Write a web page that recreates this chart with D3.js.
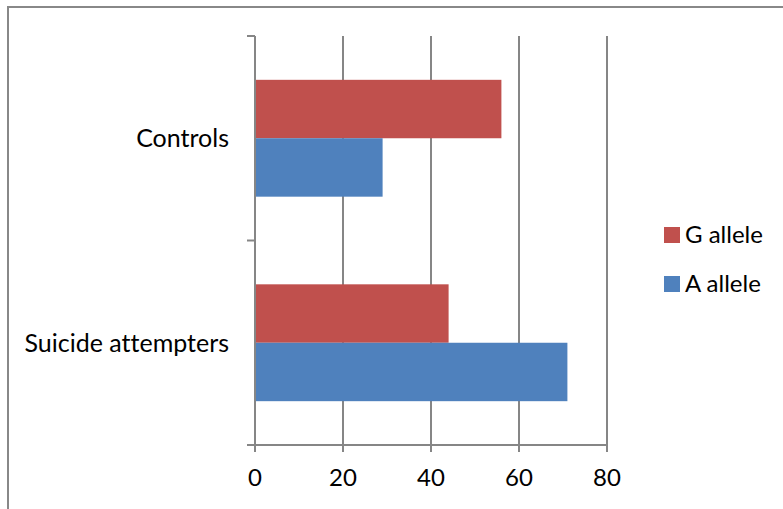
<!DOCTYPE html>
<html>
<head>
<meta charset="utf-8">
<script src="https://cdn.jsdelivr.net/npm/d3@7"></script>
<style>
  html, body { margin: 0; padding: 0; background: #fff; }
  svg { display: block; }
  text { font-family: Lato, "Open Sans", sans-serif; fill: #000; font-variant-ligatures: none; font-feature-settings: "liga" 0; }
</style>
</head>
<body>
<svg id="chart" width="783" height="509"></svg>
<script>
// Allele frequencies (%) by group
const categories = ["Suicide attempters", "Controls"];
const seriesNames = ["A allele", "G allele"];
const aAllele = [71, 29];
const gAllele = [44, 56];
const xTicks = [0, 20, 40, 60, 80];
const colors = { "A allele": "#4F81BD", "G allele": "#C0504D" };

const svg = d3.select("#chart");
const W = 783, H = 509;

// outer chart frame (extends past right/bottom edge)
svg.append("rect")
  .attr("x", 8).attr("y", 7)
  .attr("width", W + 10).attr("height", H + 10)
  .attr("fill", "#fff").attr("stroke", "#888").attr("stroke-width", 2);

const plot = { left: 255, right: 607, top: 36, bottom: 445 };

const x = d3.scaleLinear().domain([0, 80]).range([plot.left, plot.right]);
// categories run bottom-to-top
const y0 = d3.scaleBand().domain(categories).range([plot.bottom, plot.top]).padding(0);
const gapFrac = 1.5 / (2 + 1.5) / 2; // 150% gap width split both sides
const bw = y0.bandwidth();
const y1 = d3.scaleBand().domain(["G allele", "A allele"])
  .range([bw * gapFrac, bw * (1 - gapFrac)]).padding(0);

const gridColor = "#868686";

// vertical gridlines with ticks below axis
const gx = svg.append("g");
gx.selectAll("line.grid").data(xTicks).join("line")
  .attr("x1", d => x(d)).attr("x2", d => x(d))
  .attr("y1", plot.top).attr("y2", plot.bottom + 7)
  .attr("stroke", gridColor).attr("stroke-width", 2);

// data
const rows = categories.map((c, i) => ({
  cat: c,
  vals: [{ s: "G allele", v: gAllele[i] }, { s: "A allele", v: aAllele[i] }]
}));

const groups = svg.append("g").selectAll("g").data(rows).join("g")
  .attr("transform", d => `translate(0,${y0(d.cat)})`);
groups.selectAll("rect").data(d => d.vals).join("rect")
  .attr("x", x(0))
  .attr("y", d => y1(d.s))
  .attr("width", d => x(d.v) - x(0))
  .attr("height", y1.bandwidth())
  .attr("fill", d => colors[d.s]);

// horizontal axis line
svg.append("line")
  .attr("x1", plot.left - 8).attr("x2", plot.right)
  .attr("y1", plot.bottom).attr("y2", plot.bottom)
  .attr("stroke", gridColor).attr("stroke-width", 2);

// vertical axis with category boundary ticks
svg.append("line")
  .attr("x1", plot.left).attr("x2", plot.left)
  .attr("y1", plot.top).attr("y2", plot.bottom + 7)
  .attr("stroke", gridColor).attr("stroke-width", 2);
const boundaries = [plot.top].concat(categories.map(c => y0(c)));
svg.selectAll("line.ytick").data(boundaries).join("line")
  .attr("class", "ytick")
  .attr("x1", plot.left - 8).attr("x2", plot.left)
  .attr("y1", d => d).attr("y2", d => d)
  .attr("stroke", gridColor).attr("stroke-width", 2);

// x tick labels
svg.selectAll("text.xl").data(xTicks).join("text")
  .attr("class", "xl")
  .attr("x", d => x(d)).attr("y", plot.bottom + 41)
  .attr("text-anchor", "middle")
  .attr("font-size", 24)
  .text(d => d);

// category labels
svg.selectAll("text.cl").data(categories).join("text")
  .attr("class", "cl")
  .attr("x", 229).attr("y", d => y0(d) + bw / 2)
  .attr("dy", "0.35em")
  .attr("text-anchor", "end")
  .attr("font-size", 25)
  .text(d => d);

// legend
const legendItems = ["G allele", "A allele"];
const lg = svg.append("g").selectAll("g").data(legendItems).join("g")
  .attr("transform", (d, i) => `translate(664,${227 + i * 49})`);
lg.append("rect").attr("width", 16).attr("height", 16).attr("fill", d => colors[d]);
lg.append("text").attr("x", 21).attr("y", 8).attr("dy", "0.35em")
  .attr("font-size", 24).text(d => d);
</script>
</body>
</html>
